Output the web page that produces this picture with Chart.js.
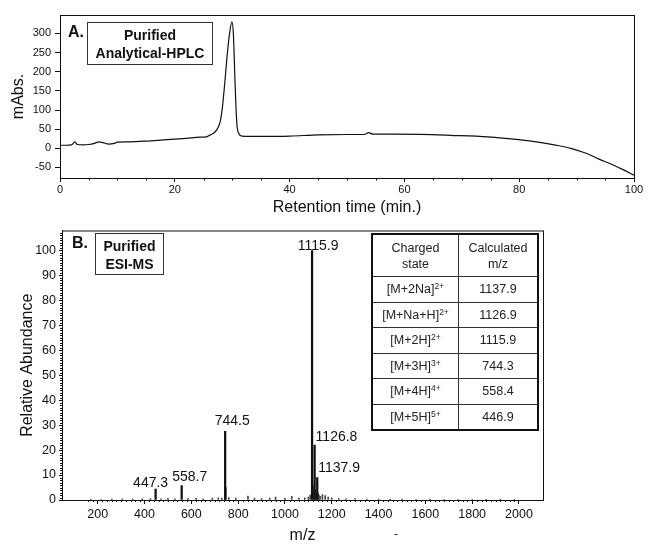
<!DOCTYPE html>
<html>
<head>
<meta charset="utf-8">
<script src="https://cdn.jsdelivr.net/npm/chart.js@4.4.1/dist/chart.umd.min.js"></script>
<style>
  body { margin: 0; background: #fff; width: 653px; height: 547px; position: relative; overflow: hidden;
         font-family: "Liberation Sans", Arial, sans-serif; color: #111; }
  canvas { position: absolute; left: 0; }
  #hplc { top: 0; }
  #ms { top: 220px; }
  .tag { position: absolute; font-weight: bold; font-size: 16px; line-height: 16px; }
  .box { position: absolute; border: 1px solid #333; font-weight: bold; text-align: center;
         font-size: 14px; line-height: 18px; box-sizing: border-box; padding-top: 3px; }
  #tbl { position: absolute; left: 371px; top: 233px; border-collapse: collapse; border: 2px solid #111;
         font-size: 12.5px; color: #222; }
  #tbl td, #tbl th { border: 1px solid #333; text-align: center; font-weight: normal; padding: 0; }
  #tbl th { height: 41px; line-height: 16px; }
  #tbl td { height: 24.5px; }
  #tbl sup { font-size: 8.5px; vertical-align: 4px; line-height: 0; }
  .dash { position: absolute; left: 394px; top: 527px; font-size: 12px; }
</style>
</head>
<body>
<canvas id="hplc" width="653" height="220"></canvas>
<canvas id="ms" width="653" height="327"></canvas>

<div class="tag" style="left:68px;top:24px;">A.</div>
<div class="box" style="left:87px;top:22px;width:126px;height:43px;">Purified<br>Analytical-HPLC</div>
<div class="tag" style="left:72px;top:235px;">B.</div>
<div class="box" style="left:95px;top:233px;width:69px;height:42px;">Purified<br>ESI-MS</div>
<table id="tbl"></table>
<div class="dash">-</div>

<script>
// A. analytical HPLC trace
const hplcTime = [0, 1, 2, 2.6, 3, 4, 5, 6, 6.8, 7.5, 8.5, 9.5, 10, 12, 15, 18, 20, 22, 24.4, 25.5, 26.2, 26.8,
  27.3, 27.9, 28.3, 28.7, 29.1, 29.5, 29.95, 30.2, 30.5, 30.8, 31.1, 31.7, 33, 36, 40, 45, 50, 53, 53.8,
  54.5, 58, 62.8, 68, 74.5, 80.3, 83, 86.1, 89, 92, 94, 96, 98, 100];
const hplcAbs = [8, 8, 9, 17, 10, 9, 10, 13, 17, 15, 11, 13, 16, 17, 19, 22, 24, 26, 29, 30, 35, 40,
  48, 69, 108, 170, 239, 295, 330, 300, 170, 66, 40, 32, 31, 31, 32, 35, 36, 36, 41,
  37, 37, 36.5, 34, 30, 22, 17, 9, 0, -15, -29, -41, -55, -70];
const hplcXTicks = [0, 20, 40, 60, 80, 100];
const hplcYTicks = [-50, 0, 50, 100, 150, 200, 250, 300];

// B. ESI-MS spectrum
const peakMz = [447.3, 558.7, 744.5, 745.6, 1115.9, 1126.8, 1137.9];
const peakAbund = [4.4, 5.8, 27.5, 5, 100, 22, 9];
const labelText = ['447.3', '558.7', '744.5', '1115.9', '1126.8', '1137.9'];
const labelMz = [447.3, 558.7, 744.5, 1115.9, 1126.8, 1137.9];
const labelAbund = [4.4, 5.8, 27.5, 100, 22, 9];
const noiseMz = [170, 215, 260, 305, 350, 390, 425, 470, 500, 530, 585, 620, 650, 690, 715, 730, 760, 790,
  842, 870, 900, 935, 960, 1000, 1029, 1060, 1085, 1100, 1108, 1120, 1123, 1130, 1133, 1141, 1145, 1150,
  1160, 1172, 1185, 1200, 1230, 1260, 1300, 1350, 1400, 1450, 1500, 1560, 1620, 1680, 1740, 1800, 1860, 1920, 1980];
const noiseAbund = [0.4, 0.3, 0.4, 0.5, 0.4, 0.5, 0.6, 0.5, 0.7, 0.5, 0.6, 0.7, 0.5, 0.8, 0.9, 0.8, 1.0, 0.8,
  1.6, 0.8, 0.6, 0.8, 1.2, 0.7, 1.5, 0.8, 0.9, 1.2, 2, 6, 3, 4, 2.5, 3, 2, 1.5,
  2.2, 1.8, 1.2, 0.9, 0.6, 0.5, 0.5, 0.4, 0.4, 0.4, 0.4, 0.3, 0.4, 0.3, 0.3, 0.3, 0.3, 0.3, 0.3];
const msXTicks = [200, 400, 600, 800, 1000, 1200, 1400, 1600, 1800, 2000];
const msYTicks = [0, 10, 20, 30, 40, 50, 60, 70, 80, 90, 100];

// table of calculated m/z
const ionForm = ['M+2Na', 'M+Na+H', 'M+2H', 'M+3H', 'M+4H', 'M+5H'];
const ionCharge = ['2+', '2+', '2+', '3+', '4+', '5+'];
const calcMz = ['1137.9', '1126.9', '1115.9', '744.3', '558.4', '446.9'];

const ink = '#111';
const pts = (xs, ys) => xs.map((x, i) => ({ x, y: ys[i] }));
const plain = v => String(v);

// frame + minor ticks
const framePlugin = {
  id: 'frame',
  afterDraw(chart, args, opts) {
    const { ctx, chartArea: a, scales } = chart;
    ctx.save();
    ctx.strokeStyle = ink;
    ctx.lineWidth = 1;
    ctx.strokeRect(a.left + 0.5, a.top + 0.5, a.right - a.left, a.bottom - a.top);
    ctx.beginPath();
    (opts.xMinor || []).forEach(v => {
      const px = Math.round(scales.x.getPixelForValue(v)) + 0.5;
      ctx.moveTo(px, a.bottom); ctx.lineTo(px, a.bottom + opts.minorLen);
    });
    (opts.yMinor || []).forEach(v => {
      const py = Math.round(scales.y.getPixelForValue(v)) + 0.5;
      ctx.moveTo(a.left, py); ctx.lineTo(a.left - opts.minorLen, py);
    });
    ctx.stroke();
    ctx.restore();
  }
};

const ticksFrom = list => scale => { scale.ticks = list.map(v => ({ value: v })); };

new Chart(document.getElementById('hplc'), {
  type: 'line',
  data: {
    datasets: [{
      data: pts(hplcTime, hplcAbs),
      borderColor: ink,
      borderWidth: 1.2,
      pointRadius: 0,
      cubicInterpolationMode: 'monotone',
      fill: false
    }]
  },
  options: {
    responsive: false,
    animation: false,
    layout: { padding: { top: 15, right: 19, left: 0, bottom: 0 } },
    plugins: {
      legend: { display: false },
      tooltip: { enabled: false },
      frame: { xMinor: [5, 10, 15, 25, 30, 35, 45, 50, 55, 65, 70, 75, 85, 90, 95], minorLen: 2.5 }
    },
    scales: {
      x: {
        type: 'linear', min: 0, max: 100,
        afterBuildTicks: ticksFrom(hplcXTicks),
        ticks: { font: { size: 11 }, color: ink, padding: 1, maxRotation: 0, callback: plain },
        grid: { drawOnChartArea: false, tickLength: 4, color: ink },
        border: { color: ink },
        title: { display: true, text: 'Retention time (min.)', font: { size: 16 }, color: ink, padding: { top: 0, bottom: 3 } },
        afterFit(s) { s.height = 42; }
      },
      y: {
        min: -77.5, max: 348,
        afterBuildTicks: ticksFrom(hplcYTicks),
        ticks: { font: { size: 11 }, color: ink, padding: 4, callback: plain },
        grid: { drawOnChartArea: false, tickLength: 5, color: ink },
        border: { color: ink },
        title: { display: true, text: 'mAbs.', font: { size: 16 }, color: ink, padding: { top: 9, bottom: 0 } },
        afterFit(s) { s.width = 60; }
      }
    }
  },
  plugins: [framePlugin]
});

const yMinorMs = [];
for (let v = 1; v <= 107; v++) if (v % 10 !== 0) yMinorMs.push(v);
const xMinorMs = [];
for (let v = 160; v < 2000; v += 20) if (v % 200 !== 0) xMinorMs.push(v);

const peakLabels = {
  id: 'peakLabels',
  afterDatasetsDraw(chart) {
    const { ctx, scales: { x, y } } = chart;
    // offsets of each label from its peak top, in px
    const off = [[-5, -6, 'center'], [8, -8, 'center'], [7, -10, 'center'], [6, -4, 'center'], [1, -8, 'left'], [1, -9, 'left']];
    ctx.save();
    ctx.fillStyle = ink;
    ctx.font = '14px "Liberation Sans", Arial, sans-serif';
    ctx.textBaseline = 'middle';
    labelText.forEach((t, i) => {
      const px = x.getPixelForValue(labelMz[i]);
      const py = y.getPixelForValue(labelAbund[i]);
      ctx.textAlign = off[i][2];
      ctx.fillText(t, px + off[i][0], py + off[i][1]);
    });
    ctx.restore();
  }
};

new Chart(document.getElementById('ms'), {
  type: 'bar',
  data: {
    datasets: [
      { data: pts(peakMz, peakAbund), backgroundColor: ink, barThickness: 1.6, grouped: false },
      { data: pts(noiseMz, noiseAbund), backgroundColor: '#444', barThickness: 1, grouped: false }
    ]
  },
  options: {
    responsive: false,
    animation: false,
    layout: { padding: { top: 5, right: 110, left: 0, bottom: 0 } },
    plugins: {
      legend: { display: false },
      tooltip: { enabled: false },
      frame: { xMinor: xMinorMs, yMinor: yMinorMs, minorLen: 2 }
    },
    scales: {
      x: {
        type: 'linear', min: 150, max: 2000,
        afterBuildTicks: ticksFrom(msXTicks),
        ticks: { font: { size: 12.5 }, color: ink, padding: 3, maxRotation: 0, callback: plain },
        grid: { drawOnChartArea: false, tickLength: 4, color: ink, offset: false },
        border: { color: ink },
        title: { display: true, text: 'm/z', font: { size: 16 }, color: ink, padding: { top: 0, bottom: 2 } },
        afterFit(s) { s.height = 47; }
      },
      y: {
        min: 0, max: 108,
        afterBuildTicks: ticksFrom(msYTicks),
        ticks: { font: { size: 12.5 }, color: ink, padding: 3, callback: plain },
        grid: { drawOnChartArea: false, tickLength: 3, color: ink },
        border: { color: ink },
        title: { display: true, text: 'Relative Abundance', font: { size: 16 }, color: ink, padding: { top: 18, bottom: 0 } },
        afterFit(s) { s.width = 62; }
      }
    }
  },
  plugins: [framePlugin, peakLabels]
});

// table
const tbl = document.getElementById('tbl');
let html = '<tr><th style="width:85px">Charged<br>state</th><th style="width:78px">Calculated<br>m/z</th></tr>';
ionForm.forEach((f, i) => {
  html += `<tr><td>[${f}]<sup>${ionCharge[i]}</sup></td><td>${calcMz[i]}</td></tr>`;
});
tbl.innerHTML = html;
</script>
</body>
</html>
